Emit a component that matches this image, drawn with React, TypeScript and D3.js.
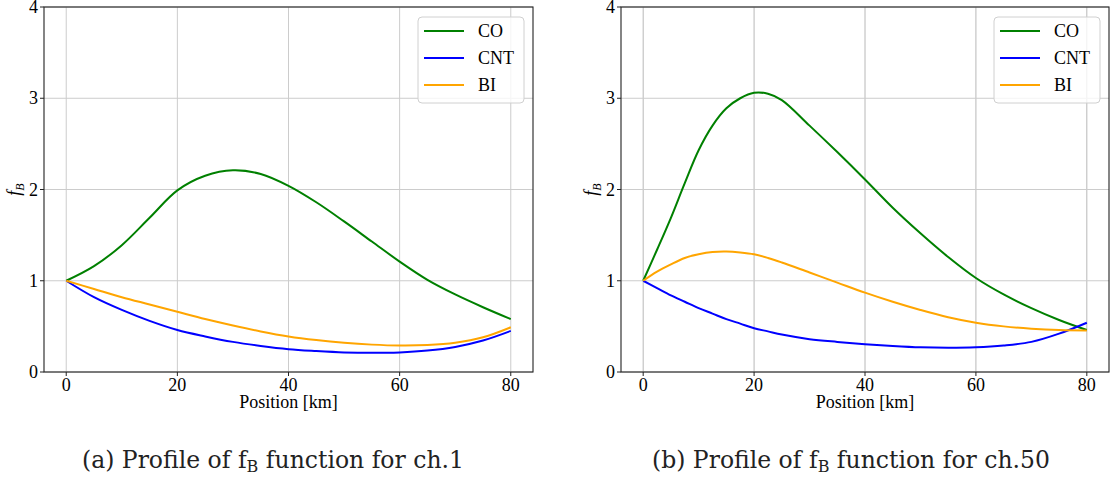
import React from "react";
import * as d3 from "d3";

const xTicks = [0, 20, 40, 60, 80];
const yTicks = [0, 1, 2, 3, 4];
const seriesNames = ["CO", "CNT", "BI"];
const seriesColors = ["#008000", "#0000ff", "#ffa500"];

// Panel (a): ch.1
const aX = [0, 5, 10, 15, 20, 25, 30, 35, 40, 45, 50, 55, 60, 65, 70, 75, 80];
const aCO = [1, 1.16, 1.39, 1.69, 1.99, 2.15, 2.21, 2.17, 2.04, 1.86, 1.65, 1.43, 1.21, 1.01, 0.85, 0.71, 0.58];
const aCNT = [1, 0.82, 0.68, 0.56, 0.46, 0.39, 0.33, 0.285, 0.25, 0.23, 0.215, 0.21, 0.215, 0.235, 0.275, 0.345, 0.45];
const aBI = [1, 0.91, 0.82, 0.74, 0.66, 0.58, 0.51, 0.445, 0.39, 0.35, 0.32, 0.3, 0.29, 0.295, 0.32, 0.38, 0.49];

// Panel (b): ch.50
const bX = [0, 2.5, 5, 7.5, 10, 12.5, 15, 17.5, 20, 22.5, 25, 30, 35, 40, 45, 50, 55, 60, 65, 70, 75, 80];
const bCO = [1, 1.34, 1.69, 2.07, 2.43, 2.7, 2.89, 3.0, 3.06, 3.05, 2.98, 2.7, 2.41, 2.11, 1.8, 1.52, 1.26, 1.03, 0.85, 0.7, 0.57, 0.46];
const bCNT = [1, 0.92, 0.84, 0.77, 0.7, 0.64, 0.58, 0.53, 0.48, 0.445, 0.41, 0.36, 0.33, 0.305, 0.285, 0.27, 0.265, 0.27, 0.29, 0.33, 0.42, 0.54];
const bBI = [1, 1.1, 1.18, 1.25, 1.29, 1.315, 1.32, 1.31, 1.29, 1.25, 1.2, 1.09, 0.98, 0.87, 0.77, 0.68, 0.6, 0.54, 0.5, 0.475, 0.46, 0.455];

const captions = ["(a) Profile of f", "(b) Profile of f"];
const captionEnds = [" function for ch.1", " function for ch.50"];

const FONT = "'Liberation Serif', 'Times New Roman', serif";
const CAPFONT = "'DejaVu Serif', serif";

type PanelProps = {
  left: number;
  right: number;
  xs: number[];
  series: number[][];
  caption: string;
  captionEnd: string;
  captionX: number;
  vGrid: string;
  hGrid: string;
};

function Panel({ left, right, xs, series, caption, captionEnd, captionX, vGrid, hGrid }: PanelProps) {
  const top = 7;
  const bottom = 372;
  const x = d3.scaleLinear().domain([-4, 84]).range([left, right]);
  const y = d3.scaleLinear().domain([0, 4]).range([bottom, top]);
  const line = d3
    .line<[number, number]>()
    .x((d) => x(d[0]))
    .y((d) => y(d[1]))
    .curve(d3.curveCatmullRom.alpha(0.5));
  const cx = (left + right) / 2;
  const legX = right - 115;
  const legY = 17;
  return (
    <g>
      {xTicks.map((t) => (
        <line key={"vg" + t} x1={x(t)} x2={x(t)} y1={top} y2={bottom} stroke={vGrid} strokeWidth={1} />
      ))}
      {yTicks.map((t) => (
        <line key={"hg" + t} x1={left} x2={right} y1={y(t)} y2={y(t)} stroke={hGrid} strokeWidth={1} />
      ))}
      {series.map((s, i) => (
        <path
          key={"s" + i}
          d={line(xs.map((v, j) => [v, s[j]] as [number, number])) || ""}
          fill="none"
          stroke={seriesColors[i]}
          strokeWidth={2}
        />
      ))}
      <rect x={left} y={top} width={right - left} height={bottom - top} fill="none" stroke="#222" strokeWidth={1.1} />
      {xTicks.map((t) => (
        <g key={"xt" + t}>
          <line x1={x(t)} x2={x(t)} y1={bottom} y2={bottom + 4} stroke="#222" strokeWidth={1} />
          <text x={x(t)} y={bottom + 19} textAnchor="middle" fontSize={18} fontFamily={FONT} fill="#000">
            {t}
          </text>
        </g>
      ))}
      {yTicks.map((t) => (
        <g key={"yt" + t}>
          <line x1={left - 4} x2={left} y1={y(t)} y2={y(t)} stroke="#222" strokeWidth={1} />
          <text x={left - 6} y={y(t) + 6} textAnchor="end" fontSize={18} fontFamily={FONT} fill="#000">
            {t}
          </text>
        </g>
      ))}
      <text x={cx} y={408} textAnchor="middle" fontSize={18} fontFamily={FONT} fill="#000">
        Position [km]
      </text>
      <text
        transform={`translate(${left - 24},${(top + bottom) / 2}) rotate(-90)`}
        textAnchor="middle"
        fontSize={18}
        fontFamily={FONT}
        fontStyle="italic"
        fill="#000"
      >
        f<tspan fontSize={12} dy={4}>B</tspan>
      </text>
      <rect x={legX} y={legY} width={106} height={86} rx={4} fill="#fff" fillOpacity={0.8} stroke="#d0d0d0" strokeWidth={1} />
      {seriesNames.map((n, i) => (
        <g key={"lg" + n}>
          <line x1={legX + 6} x2={legX + 46} y1={legY + 14 + i * 27} y2={legY + 14 + i * 27} stroke={seriesColors[i]} strokeWidth={2} />
          <text x={legX + 60} y={legY + 20 + i * 27} fontSize={18} fontFamily={FONT} fill="#000">
            {n}
          </text>
        </g>
      ))}
      <text x={captionX} y={468} fontSize={23.5} fontFamily={CAPFONT} fill="#222">
        {caption}
        <tspan fontSize={16} dy={4}>B</tspan>
        <tspan dy={-4}>{captionEnd}</tspan>
      </text>
    </g>
  );
}

export default function App() {
  return (
    <svg width={1113} height={481} style={{ position: "absolute", left: 0, top: 0, background: "#fff" }}>
      <rect x={0} y={0} width={1113} height={481} fill="#fff" />
      <Panel
        left={44}
        right={533}
        xs={aX}
        series={[aCO, aCNT, aBI]}
        caption={captions[0]}
        captionEnd={captionEnds[0]}
        captionX={82}
        vGrid="#cccccc"
        hGrid="#cccccc"
      />
      <Panel
        left={621}
        right={1109}
        xs={bX}
        series={[bCO, bCNT, bBI]}
        caption={captions[1]}
        captionEnd={captionEnds[1]}
        captionX={652}
        vGrid="#b8b8b8"
        hGrid="#cccccc"
      />
    </svg>
  );
}
